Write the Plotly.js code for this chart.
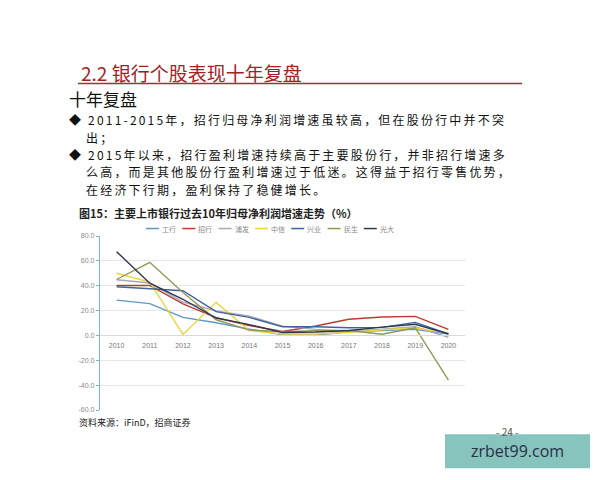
<!DOCTYPE html>
<html><head><meta charset="utf-8">
<script src="https://cdn.plot.ly/plotly-3.0.1.min.js"></script>
<style>html,body{margin:0;padding:0;background:#fff;}#chart{width:600px;height:480px;}</style>
</head><body><div id="chart"></div>
<script>
const years = ['2010','2011','2012','2013','2014','2015','2016','2017','2018','2019','2020'];
const seriesNames = ['工行','招行','浦发','中信','兴业','民生','光大'];
const icbc  = [28.4, 25.6, 14.5, 10.2, 5.1, 0.5, 0.4, 3.0, 3.9, 4.9, 1.2];
const cmb   = [40.2, 40.2, 25.3, 14.3, 8.0, 3.2, 7.6, 13.0, 14.8, 15.3, 4.8];
const spdb  = [44.8, 42.2, 26.9, 19.8, 15.5, 7.5, 4.9, 3.5, 5.0, 7.0, -1.5];
const citic = [50.0, 43.0, 0.8, 26.6, 3.9, 1.1, 1.1, 2.3, 4.6, 6.0, 2.0];
const cib   = [39.2, 37.6, 36.0, 19.2, 14.5, 7.0, 7.0, 6.2, 6.5, 10.5, 1.2];
const cmbc  = [45.0, 58.8, 34.5, 12.6, 4.3, 3.0, 3.8, 4.0, 0.9, 6.2, -36.0];
const ceb   = [67.4, 42.0, 29.1, 14.0, 8.7, 2.3, 2.7, 4.0, 6.7, 9.0, 1.3];
const seriesData = [icbc, cmb, spdb, citic, cib, cmbc, ceb];
const colors = ['#5f97c6','#c0392f','#a9a9b8','#f0d23c','#3f63a0','#8c9a55','#2b3650'];
const yTicks = [80,60,40,20,0,-20,-40,-60];
const bodyLines = [
  '◆ 2011-2015年，招行归母净利润增速虽较高，但在股份行中并不突',
  '出；',
  '◆ 2015年以来，招行盈利增速持续高于主要股份行，并非招行增速多',
  '么高，而是其他股份行盈利增速过于低迷。这得益于招行零售优势，',
  '在经济下行期，盈利保持了稳健增长。'
];

const L=100, R=465, T=235.5, B=410.5;
const px = x => (x-L)/(R-L);
const py = y => (B-y)/(B-T);

const traces = seriesData.map((d,i)=>({
  type:'scatter', mode:'lines', x:years, y:d, name:seriesNames[i],
  line:{color:colors[i], width:1.4}
}));

const cjk = '"Noto Sans CJK SC", sans-serif';
const ann = (x,y,text,size,color,opts) => Object.assign({
  xref:'paper', yref:'paper', x:px(x), y:py(y), text:text, showarrow:false,
  xanchor:'left', yanchor:'middle', font:{family:cjk, size:size, color:color}
}, opts||{});

const annotations = [
  ann(79,71,'2.2 银行个股表现十年复盘',19,'#a3221f'),
  ann(67,97,'十年复盘',17,'#111')
];
bodyLines.forEach((t,i)=>{
  const indent = t.startsWith('◆') ? 67 : 84;
  annotations.push(ann(indent, 118.5 + i*17.5, '<span style="letter-spacing:2.2px">'+t+'</span>', 12, '#111'));
});
annotations.push(
  ann(77,212,'<b>图15：主要上市银行过去10年归母净利润增速走势（%）</b>',11,'#222'),
  ann(77,423,'资料来源：iFinD，招商证券',9,'#222'),
  ann(494,432,'- 24 -',10,'#555'),
  ann(517,452,'zrbet99.com',16,'#2a2f45',{xanchor:'center',font:{family:'"Open Sans", sans-serif',size:16,color:'#2a2f45'}})
);

const shapes = [
  {type:'line', xref:'paper', yref:'paper', x0:px(78), x1:px(522), y0:py(82), y1:py(82), line:{color:'#8a3b3b', width:1.5}},
  {type:'rect', xref:'paper', yref:'paper', x0:px(445), x1:px(590), y0:py(435), y1:py(469), fillcolor:'#86c4bd', line:{width:0}, layer:'above'}
];

// legend drawn from the series names and colours
const legX0 = 146, legStep = 36.3, legY = 228;
seriesNames.forEach((n,i)=>{
  const lx = legX0 + i*legStep;
  shapes.push({type:'line', xref:'paper', yref:'paper', x0:px(lx), x1:px(lx+13), y0:py(legY), y1:py(legY), line:{color:colors[i], width:1.5}});
  annotations.push(ann(lx+14, legY, n, 7, '#888'));
});

const layout = {
  width:600, height:480,
  margin:{l:L, r:600-R, t:T, b:480-B, pad:0},
  paper_bgcolor:'#fff', plot_bgcolor:'#fff',
  showlegend:false,
  xaxis:{type:'category', anchor:'free', position:60/140, range:[-0.5,10.5],
    showline:true, linecolor:'#d9d9d9', linewidth:1, ticks:'', showgrid:false,
    tickfont:{family:'"Liberation Sans", sans-serif', size:7, color:'#777'}, zeroline:false, ticklabelstandoff:3},
  yaxis:{range:[-60,80], tickvals:yTicks, ticktext:yTicks.map(v=>v.toFixed(1)),
    showline:true, linecolor:'#7ab8cc', linewidth:1.2, ticks:'outside', ticklen:3, tickcolor:'#7ab8cc',
    gridcolor:'#e6e6e6', gridwidth:1, zeroline:false,
    tickfont:{family:'"Liberation Sans", sans-serif', size:7, color:'#888'}},
  annotations:annotations, shapes:shapes
};

Plotly.newPlot('chart', traces, layout, {displayModeBar:false, staticPlot:true});
</script></body></html>
